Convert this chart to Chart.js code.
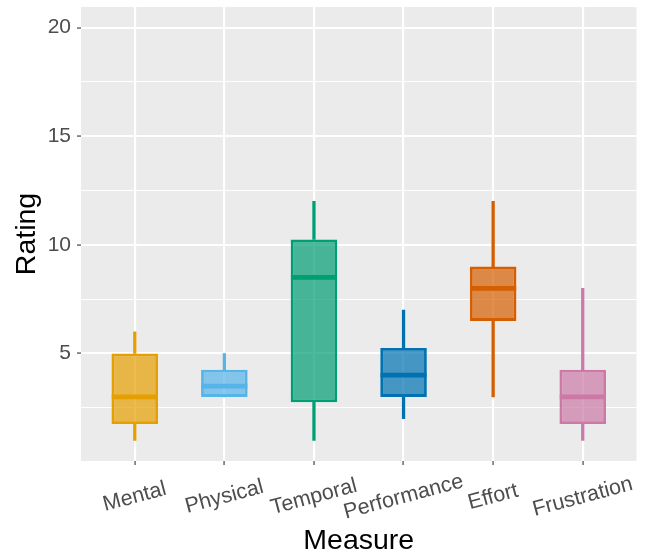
<!DOCTYPE html>
<html>
<head>
<meta charset="utf-8">
<script src="https://cdn.jsdelivr.net/npm/chart.js@4/dist/chart.umd.min.js"></script>
<style>
  html, body { margin: 0; padding: 0; background: #fff; }
  #wrap { width: 646px; height: 552px; }
</style>
</head>
<body>
<div id="wrap"><canvas id="boxChart"></canvas></div>
<script>
// values
const measures = ['Mental', 'Physical', 'Temporal', 'Performance', 'Effort', 'Frustration'];
const whiskerLow = [1, 3, 1, 2, 3, 1];
const q1 = [1.75, 3, 2.75, 3, 6.5, 1.75];
const medians = [3, 3.5, 8.5, 4, 8, 3];
const q3 = [5, 4.25, 10.25, 5.25, 9, 4.25];
const whiskerHigh = [6, 5, 12, 7, 12, 8];
const yTickLabels = [5, 10, 15, 20];
const colors = ['#E69F00', '#56B4E9', '#009E73', '#0072B2', '#D55E00', '#CC79A7'];

const FONT = '"Liberation Sans", Arial, sans-serif';

function alpha(hex, a) {
    const n = parseInt(hex.slice(1), 16);
    return `rgba(${n >> 16},${(n >> 8) & 255},${n & 255},${a})`;
}

const lowerWhiskers = measures.map((m, i) => ({ x: i, y: [whiskerLow[i], q1[i]] }));
const upperWhiskers = measures.map((m, i) => ({ x: i, y: [q3[i], whiskerHigh[i]] }));
const boxes = measures.map((m, i) => ({ x: i, y: [q1[i], q3[i]] }));
const medianPts = measures.map((m, i) => ({ x: i, y: medians[i] }));

// grey panel behind the grid, like ggplot
const panelBg = {
    id: 'panelBg',
    beforeDraw(chart) {
        const { ctx, chartArea: a } = chart;
        ctx.save();
        ctx.fillStyle = '#EBEBEB';
        ctx.fillRect(a.left, a.top, a.right - a.left, a.bottom - a.top);
        ctx.restore();
    }
};

// slanted category labels, centred on each tick
const slantLabels = {
    id: 'slantLabels',
    afterDraw(chart) {
        const { ctx } = chart;
        const x = chart.scales.x;
        ctx.save();
        ctx.font = '21.5px ' + FONT;
        ctx.fillStyle = '#4D4D4D';
        ctx.textAlign = 'center';
        ctx.textBaseline = 'middle';
        measures.forEach((m, i) => {
            ctx.save();
            ctx.translate(x.getPixelForValue(i), 497);
            ctx.rotate(-15 * Math.PI / 180);
            ctx.fillText(m, 0, 0);
            ctx.restore();
        });
        ctx.restore();
    }
};

const barCommon = { type: 'bar', grouped: false, borderSkipped: false };

new Chart(document.getElementById('boxChart'), {
    type: 'bar',
    data: {
        datasets: [
            { ...barCommon, data: lowerWhiskers, backgroundColor: colors, barThickness: 2.6, order: 3 },
            { ...barCommon, data: upperWhiskers, backgroundColor: colors, barThickness: 2.6, order: 3 },
            {
                ...barCommon, data: boxes,
                backgroundColor: colors.map(c => alpha(c, 0.7)),
                borderColor: colors, borderWidth: 2.8,
                barPercentage: 0.52, categoryPercentage: 1, order: 2
            },
            {
                type: 'scatter', data: medianPts, showLine: false,
                pointStyle: 'line', pointRadius: 23, pointBorderWidth: 4.8,
                borderColor: colors, pointBorderColor: colors, order: 1
            }
        ]
    },
    options: {
        responsive: true,
        maintainAspectRatio: false,
        animation: false,
        events: [],
        layout: { autoPadding: false, padding: { top: 7, right: 9.5, left: 0, bottom: 0 } },
        plugins: { legend: { display: false }, tooltip: { enabled: false } },
        scales: {
            x: {
                type: 'linear',
                min: -0.6,
                max: 5.6,
                offset: false,
                border: { display: false },
                grid: { offset: false, color: '#FFFFFF', lineWidth: 2.1, tickColor: '#333333', tickWidth: 1.1, tickLength: 4 },
                ticks: { display: false, stepSize: 1, includeBounds: false },
                title: {
                    display: true, text: 'Measure', color: '#000000',
                    font: { family: FONT, size: 28.5, lineHeight: 1 },
                    padding: { top: 0, bottom: -3 }
                },
                afterFit(scale) { scale.height = 91; scale.paddingLeft = 0; scale.paddingRight = 0; }
            },
            y: {
                min: 0.05,
                max: 20.95,
                border: { display: false },
                grid: {
                    color: '#FFFFFF',
                    lineWidth: ctx => (ctx.tick && ctx.tick.value % 5 === 0) ? 2.1 : 1.1,
                    tickColor: ctx => (ctx.tick && ctx.tick.value % 5 === 0) ? '#333333' : 'rgba(0,0,0,0)',
                    tickWidth: 1.1,
                    tickLength: 4
                },
                ticks: {
                    stepSize: 2.5,
                    includeBounds: false,
                    padding: 6,
                    color: '#4D4D4D',
                    font: { family: FONT, size: 21 },
                    callback: v => yTickLabels.includes(v) ? String(v) : ''
                },
                title: {
                    display: true, text: 'Rating', color: '#000000',
                    font: { family: FONT, size: 28.5, lineHeight: 1.2 },
                    padding: { top: 10, bottom: 0 }
                },
                afterFit(scale) { scale.width = 81; scale.paddingTop = 0; scale.paddingBottom = 0; }
            }
        }
    },
    plugins: [panelBg, slantLabels]
});
</script>
</body>
</html>
